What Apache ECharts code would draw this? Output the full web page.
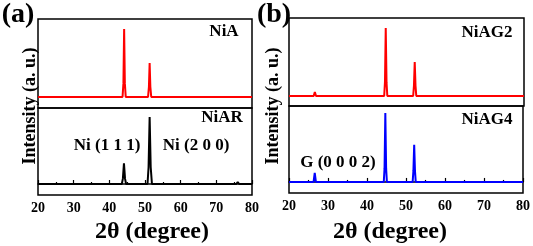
<!DOCTYPE html>
<html>
<head>
<meta charset="utf-8">
<script src="https://cdn.jsdelivr.net/npm/echarts@6/dist/echarts.min.js"></script>
<style>html,body{margin:0;padding:0;background:#fff;}#c{width:533px;height:246px;}</style>
</head>
<body>
<div id="c"></div>
<script>
// 2θ tick labels
var xTicks = [20, 30, 40, 50, 60, 70, 80];
// XRD patterns: [2θ (degree), intensity (a.u.)]
var NiA = [[20,0],[43.7,0],[43.95,20],[44.15,100],[44.35,20],[44.6,0],[50.85,0],[51.1,15],[51.3,50],[51.5,15],[51.75,0],[80,0]];
var NiAR = [[20,0],[43.5,0],[43.8,8],[44.1,31],[44.4,8],[44.7,0],[50.7,0],[51.0,25],[51.3,100],[51.6,25],[51.95,0],[75.6,0],[76.0,3],[76.4,0],[80,0]];
var NiAG2 = [[20,0],[26.3,0],[26.6,6],[26.9,0],[44.3,0],[44.5,20],[44.7,100],[44.9,20],[45.1,0],[51.7,0],[51.9,15],[52.1,50],[52.3,15],[52.5,0],[80,0]];
var NiAG4 = [[20,0],[26.3,0],[26.6,13],[26.9,0],[44.3,0],[44.5,20],[44.7,100],[44.9,20],[45.1,0],[51.7,0],[51.9,16],[52.1,54],[52.3,16],[52.5,0],[80,0]];

var FONT = 'Liberation Serif';
var chart = echarts.init(document.getElementById('c'), null, {renderer: 'canvas'});

function xAx(gi, bottom) {
  return {
    type: 'value', gridIndex: gi, min: 20, max: 80, interval: 10,
    axisLine: {show: bottom, lineStyle: {color: '#000', width: 1.5}},
    axisTick: {show: bottom, inside: true, length: 4, lineStyle: {color: '#000', width: 1.2}},
    minorTick: {show: bottom, splitNumber: 2, length: 2, lineStyle: {color: '#000', width: 1.2}},
    axisLabel: {show: bottom, color: '#000', fontFamily: FONT, fontWeight: 'bold', fontSize: 14, margin: 6,
      formatter: function (v) { return xTicks.indexOf(v) >= 0 ? String(v) : ''; }},
    splitLine: {show: false}
  };
}
function yAx(gi, mn, mx) {
  return {type: 'value', gridIndex: gi, min: mn, max: mx, show: false, splitLine: {show: false}};
}
function ser(i, data, color) {
  return {type: 'line', xAxisIndex: i, yAxisIndex: i, data: data, showSymbol: false, symbol: 'none',
    lineStyle: {color: color, width: 2}, animation: false};
}
var gridStyle = {show: true, borderColor: '#000', borderWidth: 1.5, backgroundColor: 'transparent'};

function txt(x, y, s, size, extra) {
  var o = {type: 'text', x: x, y: y, style: {text: s, fill: '#000', font: 'bold ' + size + 'px "' + FONT + '"',
    textAlign: 'center', textVerticalAlign: 'middle'}};
  if (extra) for (var k in extra) o[k] = extra[k];
  return o;
}

chart.setOption({
  animation: false,
  grid: [
    Object.assign({left: 38, top: 19, width: 214, height: 89}, gridStyle),
    Object.assign({left: 38, top: 108, width: 214, height: 87}, gridStyle),
    Object.assign({left: 289, top: 18, width: 235, height: 88}, gridStyle),
    Object.assign({left: 289, top: 106, width: 235, height: 87}, gridStyle)
  ],
  xAxis: [xAx(0, false), xAx(1, true), xAx(2, false), xAx(3, true)],
  yAxis: [yAx(0, -16.2, 114.7), yAx(1, -16.4, 113.4), yAx(2, -14.7, 114.7), yAx(3, -16, 110)],
  series: [ser(0, NiA, '#ff0000'), ser(1, NiAR, '#000000'), ser(2, NiAG2, '#ff0000'), ser(3, NiAG4, '#0000ff')],
  graphic: [
    txt(18, 15, '(a)', 28),
    txt(274, 15, '(b)', 28),
    txt(224, 32, 'NiA', 17),
    txt(222, 118, 'NiAR', 17),
    txt(107, 146, 'Ni (1 1 1)', 17),
    txt(196, 146, 'Ni (2 0 0)', 17),
    txt(487, 33, 'NiAG2', 17),
    txt(487, 120, 'NiAG4', 17),
    txt(338, 163, 'G (0 0 0 2)', 17),
    txt(152, 232, '2θ (degree)', 24),
    txt(390, 232, '2θ (degree)', 24),
    txt(30, 106, 'Intensity (a. u.)', 18, {rotation: Math.PI / 2}),
    txt(273, 106, 'Intensity (a. u.)', 18, {rotation: Math.PI / 2})
  ]
});
</script>
</body>
</html>
